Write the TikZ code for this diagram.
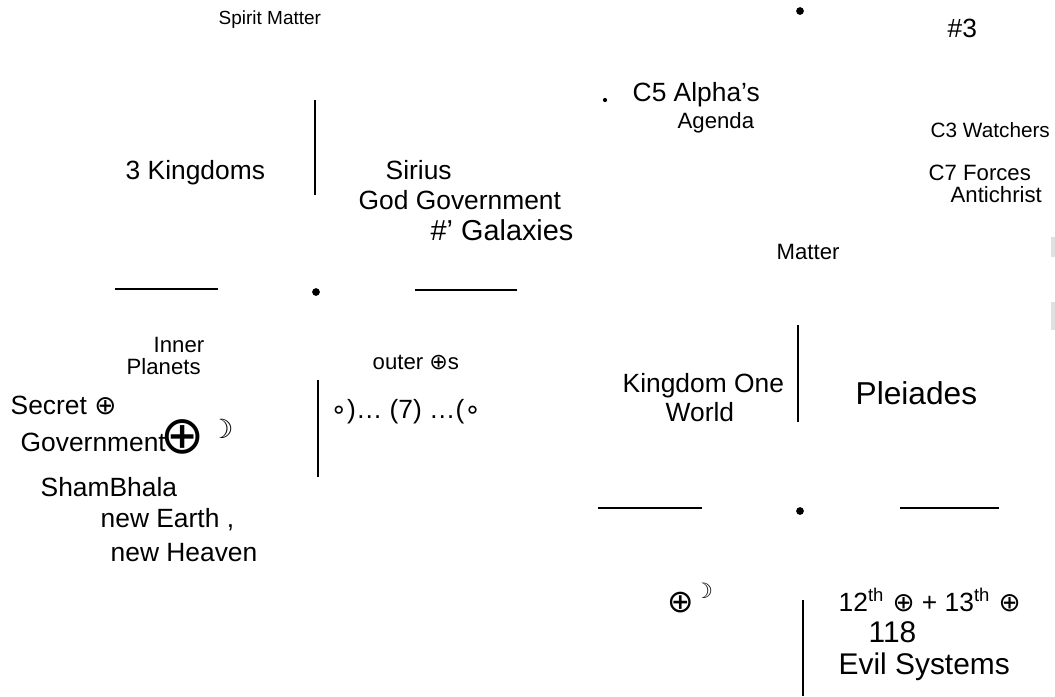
\documentclass[tikz,border=0pt]{standalone}
\usepackage{fontspec}
\setmainfont{Liberation Sans}
\newfontfamily\symfont{DejaVu Sans}
\usetikzlibrary{positioning}
\newcommand{\earthsym}{{\symfont ⊕}}
\newcommand{\moonsym}{{\symfont ☽}}
\newcommand{\ringsym}{{\symfont ∘}}

\begin{document}
\begin{tikzpicture}[
  x=0.01cm, y=-0.01cm,
  hand/.style={font=\fontsize{7.5}{9}\selectfont, inner sep=0pt, anchor=west},
  handsm/.style={hand, font=\fontsize{6.3}{7.5}\selectfont},
  handbig/.style={hand, font=\fontsize{9}{11}\selectfont},
  penline/.style={line width=0.6pt, black},
  spot/.style={circle, fill=black, inner sep=0pt, minimum size=2.2pt},
  smudge/.style={fill=black!12, draw=none}
]
\useasboundingbox (0,0) rectangle (1055,696);
% ----- page header -----
\node[hand, font=\fontsize{5.4}{6.5}\selectfont] (title) at (218,20) {Spirit Matter};
\node[hand] (sheetno) at (947,28) {\#3};
\node[spot] (topdot) at (800,11) {};
% ----- upper left block -----
\node[hand] (kingdoms) at (125,173) {3 Kingdoms};
\node[hand] (sirius) at (385,170) {Sirius};
\node[hand] (godgov) at (358,200) {God Government};
\node[hand, font=\fontsize{8.2}{9}\selectfont] (galaxies) at (430,230) {\#' Galaxies};
% ----- upper right notes -----
\node[spot, minimum size=1.2pt] (cdot) at (605,100) {};
\node[hand] (alpha) at (632,95) {C5 Alpha's};
\node[handsm] (agenda) at (677,123) {Agenda};
\node[hand, font=\fontsize{5.9}{7}\selectfont] (watchers) at (930,130) {C3 Watchers};
\node[handsm] (forces) at (928,173) {C7 Forces};
\node[handsm] (antichrist) at (950,195) {Antichrist};
\node[handsm] (matter) at (776,252) {Matter};
% ----- lower left block -----
\node[handsm] (inner) at (153,345) {Inner};
\node[handsm] (planets) at (126,367) {Planets};
\node[hand] (secret) at (10,405) {Secret \earthsym};
\node[hand] (government) at (20,442) {Government};
\node[hand, font=\fontsize{15}{16}\selectfont] (bigearth) at (160,437) {\earthsym};
\node[hand, right=1pt of bigearth.north east, anchor=north west] (bigmoon) {\moonsym};
\node[hand] (shambhala) at (40,487) {ShamBhala};
\node[hand] (newearth) at (100,520) {new Earth ,};
\node[hand] (newheaven) at (110,553) {new Heaven};
\node[handsm] (outer) at (372,362) {outer \earthsym s};
\node[hand] (seven) at (330,412) {\ringsym)\dots\ (7) \dots(\ringsym};
% ----- lower right block -----
\node[hand] (kingdomone) at (622,386) {Kingdom One};
\node[hand] (world) at (665,412) {World};
\node[handbig] (pleiades) at (855,393) {Pleiades};
\node[hand, font=\fontsize{9}{11}\selectfont] (earthmoon) at (667,598) {\earthsym\textsuperscript{\moonsym}};
\node[hand] (twelfth) at (838,600) {12\textsuperscript{th} \earthsym\ + 13\textsuperscript{th} \earthsym};
\node[hand, font=\fontsize{8.5}{10}\selectfont] (oneeighteen) at (868,632) {118};
\node[hand, font=\fontsize{8.5}{10}\selectfont] (evil) at (838,667) {Evil Systems};
% ----- dividers -----
\foreach \x/\ya/\yb in {315/100/195, 318/380/477, 798/325/422, 803/600/696}{\draw[penline] (\x,\ya) -- (\x,\yb);}
\foreach \xa/\xb/\y in {115/218/289, 415/517/290, 598/702/508, 900/999/508}{\draw[penline] (\xa,\y) -- (\xb,\y);}
\foreach \x/\y in {316/292, 800/511}{\node[spot] at (\x,\y) {};}
% ----- scan marks at the edge -----
\fill[smudge] (1051,237) rectangle (1055,257);
\fill[smudge] (1051,302) rectangle (1055,330);
\end{tikzpicture}
\end{document}
